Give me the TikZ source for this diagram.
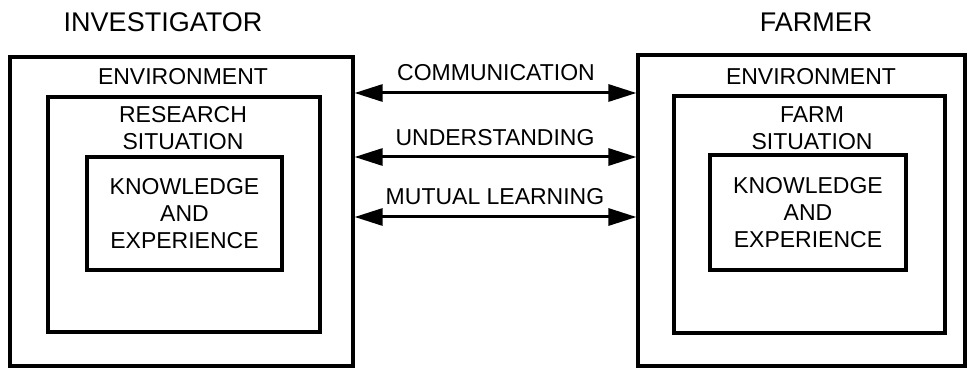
\documentclass[tikz,border=0pt]{standalone}
\usepackage{fontspec}
\setmainfont{Liberation Sans}
\usetikzlibrary{arrows.meta}
\begin{document}
\begin{tikzpicture}[x=0.5pt,y=-0.5pt,
    box/.style={draw, line width=1.6pt, inner sep=0pt},
    txt/.style={font=\fontsize{11.5}{13.5}\selectfont, align=center, inner sep=0pt},
    title/.style={font=\fontsize{13.5}{16}\selectfont, inner sep=0pt},
    link/.style={line width=1.5pt, {Triangle[length=14pt,width=8.5pt]}-{Triangle[length=14pt,width=8.5pt]}}]
    \useasboundingbox (0,0) rectangle (970,369);

    % investigator side
    \node[title] (inv) at (163,22) {INVESTIGATOR};
    \node[box, minimum width=171.5pt, minimum height=154.5pt] (envL) at (181.5,211.5) {};
    \node[box, minimum width=136pt, minimum height=117.5pt] (sitL) at (184,214.5) {};
    \node[box, minimum width=97.5pt, minimum height=56.5pt] (kowL) at (184.5,213.5) {};
    \node[txt] (envLt) at (183,77) {ENVIRONMENT};
    \node[txt] (sitLt) at (183,128) {RESEARCH\\SITUATION};
    \node[txt] (kowLt) at (kowL) {KNOWLEDGE\\AND\\EXPERIENCE};

    % farmer side
    \node[title] (frm) at (816,22) {FARMER};
    \node[box, minimum width=163.5pt, minimum height=155.5pt] (envR) at (801.5,210.5) {};
    \node[box, minimum width=135.5pt, minimum height=118.5pt] (sitR) at (809.5,214.5) {};
    \node[box, minimum width=98pt, minimum height=57.5pt] (kowR) at (808,212.5) {};
    \node[txt] (envRt) at (811,77) {ENVIRONMENT};
    \node[txt] (sitRt) at (812,128) {FARM\\SITUATION};
    \node[txt] (kowRt) at (kowR) {KNOWLEDGE\\AND\\EXPERIENCE};

    % links
    \coordinate (a1) at (495,93);
    \coordinate (a2) at (495,157);
    \coordinate (a3) at (495,217);
    \node[txt] (comm) at (496,73) {COMMUNICATION};
    \node[txt] (und) at (495,138) {UNDERSTANDING};
    \node[txt] (mut) at (495,197) {MUTUAL LEARNING};
    \draw[link] (envL.east |- a1) -- (envR.west |- a1);
    \draw[link] (envL.east |- a2) -- (envR.west |- a2);
    \draw[link] (envL.east |- a3) -- (envR.west |- a3);

\end{tikzpicture}
\end{document}
